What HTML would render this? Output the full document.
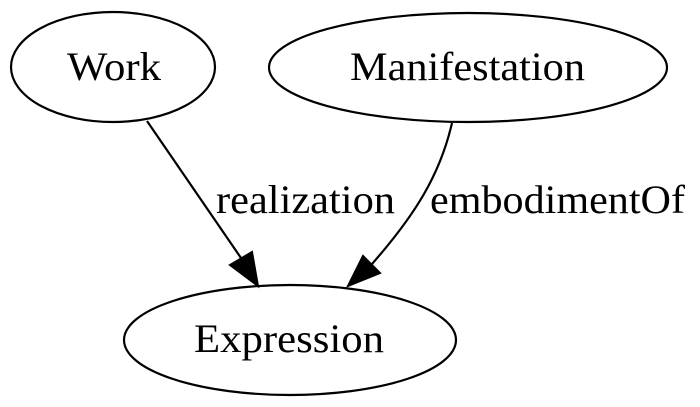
<!DOCTYPE html>
<html><head><style>html,body{margin:0;padding:0;background:#fff;}svg{display:block;}</style></head>
<body>
<svg width="700" height="407" viewBox="0 0 700 407" xmlns="http://www.w3.org/2000/svg">
<g fill="none" stroke="#000" stroke-width="2.2">
<ellipse cx="113" cy="67" rx="102" ry="55"/>
<ellipse cx="468" cy="67.5" rx="199" ry="54.5"/>
<ellipse cx="290" cy="340" rx="166" ry="55"/>
<path d="M147,121 L241,258"/>
<path d="M452,123 C440,175 415,215 372,264"/>
</g>
<polygon points="230,265 252,252 258,286" fill="#000" stroke="#000" stroke-width="2"/>
<polygon points="363,256 380,273 348,286" fill="#000" stroke="#000" stroke-width="2"/>
<g font-family="'Liberation Serif',serif" font-size="40" fill="#000">
<text x="67" y="80" textLength="94" lengthAdjust="spacingAndGlyphs">Work</text>
<text x="350" y="80" textLength="235" lengthAdjust="spacingAndGlyphs">Manifestation</text>
<text x="194" y="352" textLength="190" lengthAdjust="spacingAndGlyphs">Expression</text>
<text x="216" y="213" textLength="179" lengthAdjust="spacingAndGlyphs">realization</text>
<text x="430" y="213" textLength="255" lengthAdjust="spacingAndGlyphs">embodimentOf</text>
</g>
</svg>
</body></html>
